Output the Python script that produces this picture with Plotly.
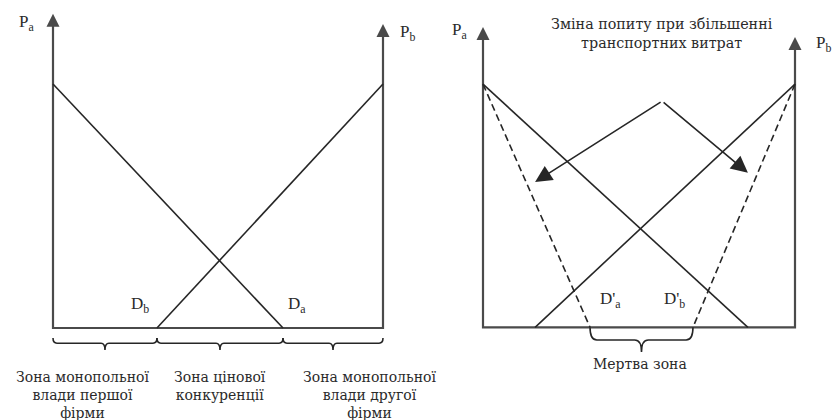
import plotly.graph_objects as go

# ---------------- data ----------------
# Left panel: market of length 10 between firm A (x=0) and firm B (x=10)
left_Da_x = [0, 6.97]
left_Da_y = [8, 0]
left_Db_x = [10, 3.15]
left_Db_y = [8, 0]
left_zone_bounds = [0, 3.15, 6.97, 10]
left_zone_labels = [
    "Зона монопольної<br>влади першої<br>фірми",
    "Зона цінової<br>конкуренції",
    "Зона монопольної<br>влади другої<br>фірми",
]
left_axis_tips = [10.3, 9.97]          # heights of the Pa / Pb arrow tips

# Right panel: demand before (solid) and after (dashed) higher transport costs
right_Da_x = [0, 8.49]
right_Da_y = [8, 0]
right_Db_x = [10, 1.67]
right_Db_y = [8, 0]
right_Da2_x = [0, 3.43]
right_Da2_y = [8, 0]
right_Db2_x = [10, 6.73]
right_Db2_y = [8, 0]
dead_zone = [3.43, 6.73]
shift_origin = [5.74, 7.44]
shift_tips_x = [1.67, 8.49]
shift_tips_y = [4.78, 5.08]
right_axis_tips = [9.88, 9.55]
market_len = 10

# ---------------- layout geometry ----------------
W, H = 838, 420
L = dict(ox=53, oy=328, sx=33.0, sy=30.5)
R = dict(ox=483, oy=327.3, sx=31.2, sy=30.4)

def xr(p):
    return [-p["ox"] / p["sx"], (W - p["ox"]) / p["sx"]]

def yr(p):
    return [-(H - p["oy"]) / p["sy"], p["oy"] / p["sy"]]

FONT = "'DejaVu Serif', serif"
FONT_LAT = "'Liberation Serif', 'DejaVu Serif', serif"
TXT = "#2a2a2a"
LINE = "#262626"
AX = "#4a4a4a"

fig = go.Figure()

def line(x, y, xa, ya, color=LINE, width=1.6, dash=None):
    fig.add_trace(go.Scatter(x=x, y=y, xaxis=xa, yaxis=ya, mode="lines",
                             line=dict(color=color, width=width, dash=dash),
                             hoverinfo="skip", showlegend=False))

# ---- left panel ----
line([0, 0, market_len, market_len],
     [left_axis_tips[0] - 0.3, 0, 0, left_axis_tips[1] - 0.3], "x", "y", AX, 2.2)
line(left_Da_x, left_Da_y, "x", "y")
line(left_Db_x, left_Db_y, "x", "y")

# ---- right panel ----
line([0, 0, market_len, market_len],
     [right_axis_tips[0] - 0.3, 0, 0, right_axis_tips[1] - 0.3], "x2", "y2", AX, 2.2)
line(right_Da_x, right_Da_y, "x2", "y2")
line(right_Db_x, right_Db_y, "x2", "y2")
line(right_Da2_x, right_Da2_y, "x2", "y2", dash="7px,4px")
line(right_Db2_x, right_Db2_y, "x2", "y2", dash="7px,4px")

annotations = []

def arrow(x, y, ax, ay, xref, yref, width=2.0, size=1.3, color=AX):
    annotations.append(dict(x=x, y=y, ax=ax, ay=ay, xref=xref, yref=yref,
                            axref=xref, ayref=yref, showarrow=True, arrowhead=2,
                            arrowwidth=width, arrowsize=size, arrowcolor=color,
                            text="", standoff=0))

arrow(0, left_axis_tips[0], 0, left_axis_tips[0] - 0.6, "x", "y")
arrow(market_len, left_axis_tips[1], market_len, left_axis_tips[1] - 0.6, "x", "y")
arrow(0, right_axis_tips[0], 0, right_axis_tips[0] - 0.6, "x2", "y2")
arrow(market_len, right_axis_tips[1], market_len, right_axis_tips[1] - 0.6, "x2", "y2")
for tx, ty in zip(shift_tips_x, shift_tips_y):
    arrow(tx, ty, shift_origin[0], shift_origin[1], "x2", "y2", width=1.6, size=2.1, color=LINE)

def label(x, y, text, xref, yref, size=16, yanchor="middle", family=FONT):
    annotations.append(dict(x=x, y=y, xref=xref, yref=yref, text=text, showarrow=False,
                            font=dict(family=family, size=size, color=TXT),
                            xanchor="center", yanchor=yanchor, align="center"))

label(-0.79, 10.0, "P<sub>a</sub>", "x", "y", 17, family=FONT_LAT)
label(10.73, 9.67, "P<sub>b</sub>", "x", "y", 17, family=FONT_LAT)
label(2.64, 0.75, "D<sub>b</sub>", "x", "y", 17, family=FONT_LAT)
label(7.39, 0.75, "D<sub>a</sub>", "x", "y", 17, family=FONT_LAT)
for lx, txt in zip([0.88, 5.06, 9.6], left_zone_labels):
    label(lx, -1.27, txt, "x", "y", 14, yanchor="top")

label(-0.74, 9.75, "P<sub>a</sub>", "x2", "y2", 17, family=FONT_LAT)
label(10.9, 9.32, "P<sub>b</sub>", "x2", "y2", 17, family=FONT_LAT)
label(4.1, 0.9, "D'<sub>a</sub>", "x2", "y2", 17, family=FONT_LAT)
label(6.15, 0.9, "D'<sub>b</sub>", "x2", "y2", 17, family=FONT_LAT)
label(5.03, -1.2, "Мертва зона", "x2", "y2", 14)
label(5.74, 9.66, "Зміна попиту при збільшенні<br>транспортних витрат", "x2", "y2", 14.3)

# ---- braces ----
shapes = []

def brace(x0, x1, ytop, ymid, ytip, r, xref, yref):
    xc = (x0 + x1) / 2
    path = (f"M {x0},{ytop} Q {x0},{ymid} {x0 + r},{ymid} L {xc - r},{ymid} "
            f"Q {xc},{ymid} {xc},{ytip} Q {xc},{ymid} {xc + r},{ymid} "
            f"L {x1 - r},{ymid} Q {x1},{ymid} {x1},{ytop}")
    shapes.append(dict(type="path", path=path, xref=xref, yref=yref,
                       line=dict(color=LINE, width=1.6)))

for a, b in zip(left_zone_bounds[:-1], left_zone_bounds[1:]):
    brace(a, b, -0.33, -0.5, -0.72, 0.12, "x", "y")
brace(dead_zone[0], dead_zone[1], 0, -0.42, -0.81, 0.22, "x2", "y2")

ax_common = dict(visible=False, showgrid=False, zeroline=False, fixedrange=True)
fig.update_layout(
    width=W, height=H, margin=dict(l=0, r=0, t=0, b=0),
    paper_bgcolor="white", plot_bgcolor="white", showlegend=False,
    xaxis=dict(range=xr(L), domain=[0, 1], **ax_common),
    yaxis=dict(range=yr(L), domain=[0, 1], **ax_common),
    xaxis2=dict(range=xr(R), domain=[0, 1], overlaying="x", anchor="y2", **ax_common),
    yaxis2=dict(range=yr(R), domain=[0, 1], overlaying="y", anchor="x2", **ax_common),
    annotations=annotations, shapes=shapes,
)

fig.write_html("out.html", config={"displayModeBar": False, "staticPlot": True},
               post_script="document.body.style.margin='0';")
